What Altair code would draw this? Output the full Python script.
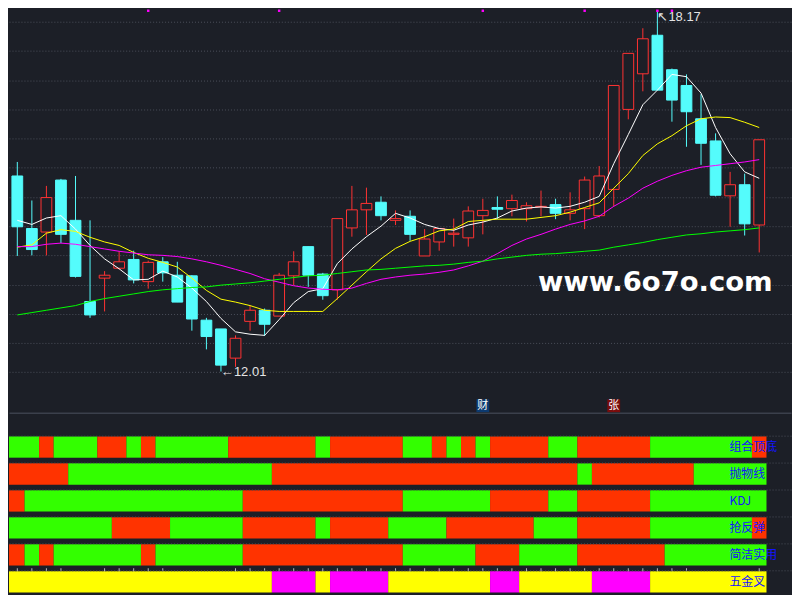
import altair as alt
import pandas as pd

# ---------------- values ----------------
opens = [15.36, 14.46, 14.40, 15.29, 14.60, 13.21, 13.61, 13.78, 13.93, 13.55,
         13.89, 13.66, 13.65, 12.89, 12.74, 12.24, 12.87, 13.06, 12.96, 13.65,
         14.15, 13.68, 13.41, 14.47, 14.78, 14.91, 14.60, 14.67, 13.99, 14.23,
         14.36, 14.30, 14.68, 14.82, 14.80, 14.80, 14.83, 14.87, 14.72, 14.80,
         14.68, 15.13, 16.50, 17.11, 17.77, 17.18, 16.91, 16.34, 15.96, 15.02,
         15.21, 14.52]
closes = [14.49, 14.10, 14.99, 14.36, 13.64, 12.98, 13.66, 13.89, 13.58, 13.88,
          13.70, 13.20, 12.91, 12.61, 12.12, 12.58, 13.06, 12.82, 13.66, 13.89,
          13.66, 13.31, 14.63, 14.78, 14.89, 14.68, 14.63, 14.36, 14.28, 14.46,
          14.38, 14.76, 14.77, 14.79, 14.94, 14.85, 14.84, 14.72, 14.78, 15.29,
          15.36, 16.91, 17.46, 17.71, 16.83, 16.66, 16.46, 15.92, 15.03, 15.21,
          14.54, 15.98]
highs = [15.60, 14.94, 15.19, 15.31, 15.36, 14.60, 13.73, 14.07, 14.08, 13.91,
         13.97, 13.89, 13.66, 12.93, 12.74, 12.63, 13.14, 13.09, 13.70, 14.07,
         14.15, 13.70, 14.63, 15.19, 15.16, 15.01, 14.77, 14.77, 14.45, 14.46,
         14.63, 14.84, 14.97, 15.01, 15.04, 14.91, 15.11, 14.97, 15.08, 15.35,
         15.53, 16.91, 17.46, 17.89, 18.17, 17.20, 17.10, 16.76, 16.09, 15.43,
         15.40, 15.98]
lows = [13.99, 14.00, 14.00, 14.21, 13.62, 12.93, 13.04, 13.76, 13.52, 13.43,
        13.55, 13.20, 12.71, 12.39, 12.01, 12.09, 12.71, 12.62, 12.96, 13.49,
        13.46, 13.24, 13.24, 14.32, 14.35, 14.60, 14.52, 14.25, 13.99, 14.08,
        14.15, 14.15, 14.36, 14.62, 14.67, 14.58, 14.67, 14.62, 14.60, 14.45,
        14.65, 14.84, 16.33, 16.81, 16.83, 16.29, 15.86, 15.55, 15.01, 14.49,
        14.34, 14.05]

ma5 = [14.60, 14.53, 14.64, 14.68, 14.45, 14.17, 13.94, 13.77, 13.58, 13.59,
       13.73, 13.63, 13.44, 13.21, 12.92, 12.69, 12.65, 12.63, 12.90, 13.19,
       13.38, 13.43, 13.86, 14.11, 14.32, 14.50, 14.72, 14.64, 14.53, 14.46,
       14.43, 14.52, 14.57, 14.64, 14.76, 14.81, 14.83, 14.81, 14.84, 14.91,
       15.01, 15.57, 16.07, 16.58, 16.83, 17.10, 17.06, 16.78, 16.19, 15.74,
       15.43, 15.32]
ma10 = [14.14, 14.18, 14.38, 14.44, 14.41, 14.31, 14.23, 14.17, 14.05, 13.95,
        13.88, 13.80, 13.61, 13.40, 13.25, 13.20, 13.14, 13.06, 13.04, 13.04,
        13.04, 13.04, 13.26, 13.49, 13.72, 13.94, 14.12, 14.24, 14.32, 14.42,
        14.45, 14.58, 14.60, 14.62, 14.62, 14.62, 14.65, 14.68, 14.74, 14.82,
        14.90, 15.15, 15.40, 15.71, 15.91, 16.05, 16.22, 16.34, 16.37, 16.36,
        16.28, 16.19]
ma20 = [14.15, 14.15, 14.19, 14.21, 14.19, 14.15, 14.11, 14.07, 14.04, 14.01,
        14.00, 13.98, 13.94, 13.89, 13.83, 13.76, 13.69, 13.60, 13.54, 13.48,
        13.44, 13.42, 13.41, 13.44, 13.52, 13.59, 13.63, 13.66, 13.68, 13.71,
        13.75, 13.82, 13.90, 14.03, 14.17, 14.28, 14.36, 14.45, 14.53, 14.59,
        14.67, 14.84, 14.98, 15.15, 15.27, 15.37, 15.45, 15.51, 15.54, 15.57,
        15.60, 15.64]
ma60 = [12.98, 13.02, 13.06, 13.10, 13.14, 13.21, 13.26, 13.30, 13.34, 13.38,
        13.41, 13.43, 13.45, 13.46, 13.49, 13.51, 13.53, 13.56, 13.59, 13.62,
        13.65, 13.66, 13.69, 13.72, 13.75, 13.76, 13.78, 13.80, 13.82, 13.83,
        13.85, 13.88, 13.90, 13.94, 13.97, 14.00, 14.02, 14.03, 14.05, 14.07,
        14.09, 14.14, 14.18, 14.22, 14.27, 14.31, 14.35, 14.37, 14.40, 14.42,
        14.44, 14.47]
ma_names = ["MA5", "MA10", "MA20", "MA60"]
ma_colors = ["#ffffff", "#ffff00", "#ff00ff", "#00ff00"]

row_names = ["组合顶底", "抛物线", "KDJ", "抢反弹", "简洁实用", "五金叉"]
runs_zuhe = [("G", 2), ("R", 1), ("G", 3), ("R", 2), ("G", 1), ("R", 1), ("G", 5),
             ("R", 6), ("G", 1), ("R", 5), ("G", 2), ("R", 1), ("G", 1), ("R", 1),
             ("G", 1), ("R", 4), ("G", 2), ("R", 5), ("G", 7), ("R", 1)]
runs_paowu = [("R", 4), ("G", 14), ("R", 21), ("G", 1), ("R", 7), ("G", 5)]
runs_kdj = [("R", 1), ("G", 15), ("R", 11), ("G", 6), ("R", 4), ("G", 2), ("R", 5), ("G", 8)]
runs_qiang = [("G", 7), ("R", 4), ("G", 5), ("R", 5), ("G", 1), ("R", 4), ("G", 4),
              ("R", 6), ("G", 3), ("R", 5), ("G", 7), ("R", 1)]
runs_jianjie = [("R", 1), ("G", 1), ("R", 1), ("G", 6), ("R", 1), ("G", 6), ("R", 11),
                ("G", 5), ("R", 3), ("G", 4), ("R", 6), ("G", 7)]
runs_wujin = [("Y", 18), ("M", 3), ("Y", 1), ("M", 4), ("Y", 7), ("M", 2), ("Y", 5),
              ("M", 4), ("Y", 8)]
state_keys = ["G", "R", "Y", "M"]
state_colors = ["#33ff00", "#ff3300", "#ffff00", "#ff00ff"]

tick_idx = [0, 1, 2, 3, 6, 7, 8, 9, 10] + list(range(15, 47)) + [51]
dot_idx = [9, 18, 32, 39, 44, 45]
event_idx = [32, 41]
event_text = ["财", "张"]
event_color = ["#0c3a70", "#7a0c0c"]
grid_values = [12.0, 12.5, 13.0, 13.5, 14.0, 14.5, 15.0, 15.5, 16.0, 16.5, 17.0, 17.5, 18.0]

# ---------------- styling / layout ----------------
BG = "#1c1f27"
UP = "#ff3232"
DOWN = "#54fcfc"
N = len(opens)
PLOT_W = 784                 # fits inside the 8px page margin without rescaling
SX = PLOT_W / 800            # horizontal fit factor
SY = 587 / 595               # vertical fit factor
PX_PER_BAR = 14.882 * SX
X_MIN = 0.5 - 8.5 * SX / PX_PER_BAR
X_MAX = X_MIN + PLOT_W / PX_PER_BAR
TOP_H = 404
BOT_H = 183
GRID = "#4b4f5a"

xscale = alt.Scale(domain=[X_MIN, X_MAX], nice=False, zero=False)
yscale = alt.Scale(domain=[11.305, 18.207], nice=False, zero=False)
x_axis_top = alt.Axis(labels=False, ticks=False, grid=False, domain=True,
                      domainColor="#3b404c", domainWidth=1.5)
y_axis_top = alt.Axis(values=grid_values, labels=False, ticks=False, domain=False,
                      grid=True, gridColor=GRID, gridDash=[1, 2], gridWidth=1)


def X(field):
    return alt.X(field, type="quantitative", scale=xscale, axis=x_axis_top, title=None)


def Y(field):
    return alt.Y(field, type="quantitative", scale=yscale, axis=y_axis_top, title=None)


# ---------------- data tables ----------------
cdf = pd.DataFrame({"i": list(range(N)), "open": opens, "high": highs,
                    "low": lows, "close": closes})
cdf["dir"] = ["up" if c >= o else "down" for o, c in zip(opens, closes)]

ma_rows = []
for name, vals in zip(ma_names, [ma5, ma10, ma20, ma60]):
    for i, v in enumerate(vals):
        ma_rows.append({"i": i, "ma": name, "value": v})
ldf = pd.DataFrame(ma_rows)

lo_i = lows.index(min(lows))
hi_i = highs.index(max(highs))
lo_df = pd.DataFrame({"i": [lo_i], "v": [lows[lo_i]], "t": [f"←{lows[lo_i]:.2f}"]})
hi_df = pd.DataFrame({"i": [hi_i], "v": [highs[hi_i]], "t": [f"↖{highs[hi_i]:.2f}"]})

calc = dict(xc="datum.i + 0.5", xl="datum.i + 0.13", xr="datum.i + 0.87")
dir_stroke = alt.Stroke("dir:N", scale=alt.Scale(domain=["up", "down"], range=[UP, DOWN]), legend=None)
dir_fill = alt.Fill("dir:N", scale=alt.Scale(domain=["up", "down"], range=[BG, DOWN]), legend=None)

base = alt.Chart(cdf).transform_calculate(**calc)
wick = base.mark_rule(strokeWidth=1).encode(x=X("xc"), y=Y("low"), y2="high", stroke=dir_stroke)
body = base.mark_rect(strokeWidth=1).encode(x=X("xl"), x2="xr", y=Y("open"), y2="close",
                                            fill=dir_fill, stroke=dir_stroke)
lines = alt.Chart(ldf).transform_calculate(**calc).mark_line(strokeWidth=1).encode(
    x=X("xc"), y=Y("value"),
    color=alt.Color("ma:N", scale=alt.Scale(domain=ma_names, range=ma_colors), legend=None),
    detail="ma:N")

lo_lab = alt.Chart(lo_df).transform_calculate(**calc).mark_text(
    align="left", baseline="middle", fontSize=13, color="#e4e4e4", font="Liberation Sans"
).encode(x=X("xc"), y=Y("v"), text="t:N")
hi_lab = alt.Chart(hi_df).transform_calculate(**calc).mark_text(
    align="left", baseline="top", fontSize=13, color="#e4e4e4", font="Liberation Sans", dy=-1
).encode(x=X("xc"), y=Y("v"), text="t:N")

dots = alt.Chart(pd.DataFrame({"i": dot_idx})).transform_calculate(**calc).mark_square(
    size=6, color="#ff00ff", opacity=1).encode(x=X("xc"), y=alt.value(1))

badges = []
for ei, et, ec in zip(event_idx, event_text, event_color):
    edf = pd.DataFrame({"i": [ei], "t": [et]})
    badges.append(alt.Chart(edf).transform_calculate(**calc).mark_square(
        size=165, color=ec, opacity=1).encode(x=X("xc"), y=alt.value(397)))
    badges.append(alt.Chart(edf).transform_calculate(**calc).mark_text(
        fontSize=11, color="#ffffff", font="Noto Sans CJK SC", align="center", baseline="middle"
    ).encode(x=X("xc"), y=alt.value(397), text="t:N"))

wm = alt.Chart(pd.DataFrame({"t": ["www.6o7o.com"]})).mark_text(
    font="DejaVu Sans", fontWeight="bold", fontSize=27.5, color="#ffffff",
    align="center", baseline="alphabetic"
).encode(x=alt.value(648), y=alt.value(282), text="t:N")

top = alt.layer(wick, body, lines, lo_lab, hi_lab, dots, *badges, wm).properties(
    width=PLOT_W, height=TOP_H)

# ---------------- indicator strips ----------------
seg_rows = []
for rname, runs in zip(row_names, [runs_zuhe, runs_paowu, runs_kdj, runs_qiang, runs_jianjie, runs_wujin]):
    pos = 0
    for st, cnt in runs:
        seg_rows.append({"row": rname, "start": X_MIN if pos == 0 else pos,
                         "end": pos + cnt, "state": st})
        pos += cnt
sdf = pd.DataFrame(seg_rows)

bx_axis = alt.Axis(labels=False, ticks=False, grid=False, domain=True,
                   domainColor="#3b404c", domainWidth=1.5, offset=-2)
by_scale = alt.Scale(domain=row_names, paddingInner=0.21, paddingOuter=0.49, align=0.82)
by_axis = alt.Axis(labels=False, ticks=False, domain=False, grid=True, bandPosition=0,
                   gridColor=GRID, gridDash=[1, 2], gridWidth=1)


def BX(field):
    return alt.X(field, type="quantitative", scale=xscale, axis=bx_axis, title=None)


def BY():
    return alt.Y("row:N", scale=by_scale, axis=by_axis, sort=row_names, title=None)


segs = alt.Chart(sdf).mark_rect().encode(
    x=BX("start"), x2="end", y=BY(),
    fill=alt.Fill("state:N", scale=alt.Scale(domain=state_keys, range=state_colors), legend=None))

lab_df = pd.DataFrame({"row": row_names, "lx": [X_MIN + 737 / 14.882] * len(row_names)})
labels = alt.Chart(lab_df).mark_text(
    align="left", baseline="middle", fontSize=12, color="#1414ff", font="Noto Sans CJK SC"
).encode(x=BX("lx"), y=BY(), text="row:N")

tdf = pd.DataFrame({"i": tick_idx, "row": [row_names[-1]] * len(tick_idx)})
ticks = alt.Chart(tdf).transform_calculate(**calc).mark_tick(
    color="#ffffff", thickness=1, size=3, orient="vertical", yOffset=-12.2
).encode(x=BX("xc"), y=BY())

bottom = alt.layer(segs, labels, ticks).properties(width=PLOT_W, height=BOT_H)

chart = alt.vconcat(top, bottom, spacing=0).resolve_scale(
    x="independent", y="independent", fill="independent", stroke="independent", color="independent"
).configure(background=BG, padding=0).configure_view(stroke="transparent")

chart.save("out.html", embed_options={"renderer": "svg", "actions": False})
